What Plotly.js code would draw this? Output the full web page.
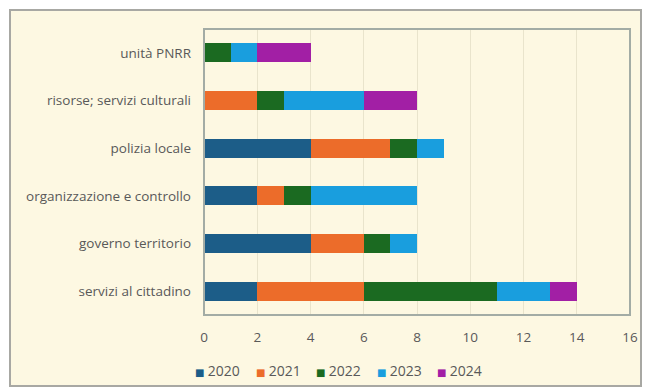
<!DOCTYPE html>
<html>
<head>
<meta charset="utf-8">
<script src="https://cdn.plot.ly/plotly-3.0.1.min.js"></script>
<style>
html,body{margin:0;padding:0;background:#ffffff;}
#chart{width:647px;height:392px;}
</style>
</head>
<body>
<div id="chart"></div>
<script>
// Categories (top to bottom as shown)
const categories = ["unità PNRR", "risorse; servizi culturali", "polizia locale", "organizzazione e controllo", "governo territorio", "servizi al cittadino"];
const years = ["2020", "2021", "2022", "2023", "2024"];
const v2020 = [0, 0, 4, 2, 4, 2];
const v2021 = [0, 2, 3, 1, 2, 4];
const v2022 = [1, 1, 1, 1, 1, 5];
const v2023 = [1, 3, 1, 4, 1, 2];
const v2024 = [2, 2, 0, 0, 0, 1];
const xTicks = [0, 2, 4, 6, 8, 10, 12, 14, 16];

const series = [v2020, v2021, v2022, v2023, v2024];
const colors = ["#1c5d88", "#ec6c2a", "#1b6a21", "#199ede", "#a21fa5"];

const barTraces = series.map((vals, i) => ({
  type: "bar",
  orientation: "h",
  name: years[i],
  showlegend: false,
  y: categories,
  x: vals,
  marker: {color: colors[i], line: {width: 0}},
  hoverinfo: "x+y+name"
}));

const W = 647, H = 392;
const ml = 204, mr = 17, mt = 29, mb = 77;
const pw = W - ml - mr, ph = H - mt - mb;
const px2x = p => (p - ml) / pw;
const py2y = p => (H - mb - p) / ph;

// Legend (compact, Excel-style): coloured square glyph followed by the year
const legendStart = 193, legendStep = 60.5, legendY = 370;
const legendAnnotations = years.map((yr, i) => ({
  xref: "paper", yref: "paper",
  x: px2x(legendStart + i * legendStep), xanchor: "left",
  y: py2y(legendY), yanchor: "middle",
  showarrow: false,
  text: '<span style="color:' + colors[i] + ';font-size:10px;font-family:DejaVu Sans">■ </span>' + yr,
  font: {size: 14, color: "#595959"}
}));

const layout = {
  width: W, height: H,
  margin: {l: ml, r: mr, t: mt, b: mb, pad: 0},
  paper_bgcolor: "#ffffff",
  plot_bgcolor: "rgba(0,0,0,0)",
  barmode: "stack",
  bargap: 0.6,
  font: {family: "Open Sans, sans-serif", size: 13.5, color: "#595959"},
  showlegend: false,
  annotations: legendAnnotations,
  xaxis: {
    range: [0, 16],
    tickvals: xTicks,
    ticktext: xTicks.map(String),
    showgrid: true,
    gridcolor: "#e9e4cc",
    gridwidth: 1,
    zeroline: false,
    showline: false,
    ticks: "",
    ticklabelstandoff: 12,
    tickfont: {size: 13.5, color: "#595959"},
    fixedrange: true
  },
  yaxis: {
    type: "category",
    autorange: "reversed",
    showgrid: false,
    zeroline: false,
    showline: false,
    ticks: "",
    ticklabelstandoff: 12,
    tickfont: {size: 13.5, color: "#595959"},
    fixedrange: true
  },
  shapes: [
    {
      type: "rect", layer: "below",
      xref: "paper", yref: "paper",
      x0: px2x(10), x1: px2x(641), y0: py2y(386), y1: py2y(10),
      fillcolor: "#fdf8e2",
      line: {color: "#a8a8a3", width: 2}
    },
    {
      type: "rect", layer: "above",
      xref: "paper", yref: "paper",
      x0: 0, x1: 1, y0: 0, y1: 1,
      fillcolor: "rgba(0,0,0,0)",
      line: {color: "#a3aca5", width: 2}
    }
  ]
};

Plotly.newPlot("chart", barTraces, layout, {displayModeBar: false, staticPlot: true});
</script>
</body>
</html>
